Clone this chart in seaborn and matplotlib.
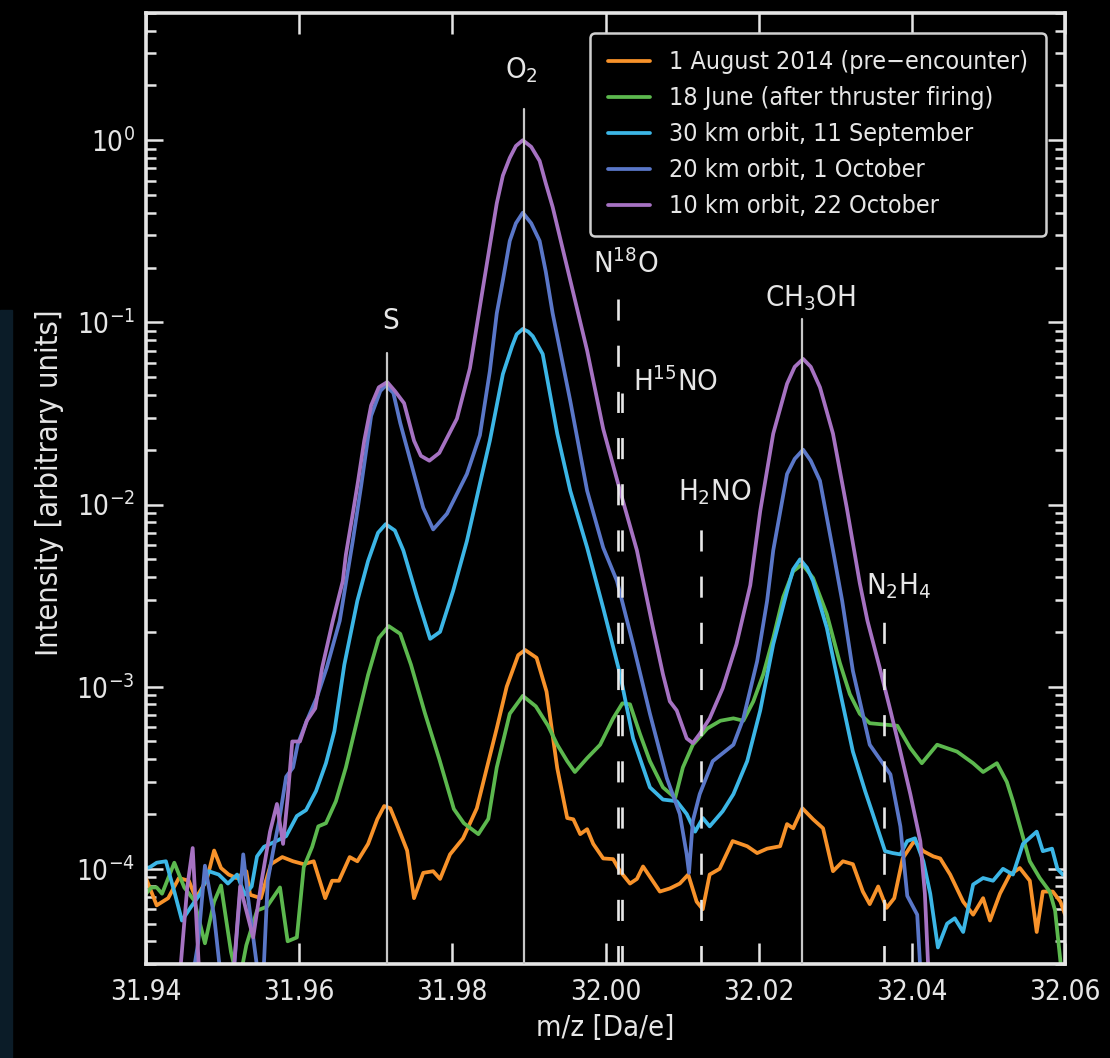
import matplotlib
matplotlib.use("Agg")
import matplotlib.pyplot as plt
import pandas as pd
import seaborn as sns
from matplotlib import font_manager
from matplotlib.patches import Rectangle

# spectra: (m/z, intensity)
aug_2014 = [
    (31.9400, 8.9e-5), (31.9414, 6.3e-5), (31.9429, 6.9e-5), (31.9443, 8.9e-5), (31.9456, 8.6e-5),
    (31.9465, 6.9e-5), (31.9479, 8.6e-5), (31.9489, 1.26e-4), (31.9498, 1.01e-4), (31.9508, 9.3e-5),
    (31.9518, 8.9e-5), (31.9531, 9.7e-5), (31.9536, 7.2e-5), (31.9550, 6.9e-5), (31.9563, 1.06e-4),
    (31.9578, 1.16e-4), (31.9592, 1.10e-4), (31.9606, 1.06e-4), (31.9619, 1.10e-4), (31.9634, 6.9e-5),
    (31.9643, 8.6e-5), (31.9652, 8.6e-5), (31.9666, 1.16e-4), (31.9676, 1.10e-4), (31.9690, 1.37e-4),
    (31.9702, 1.87e-4), (31.9711, 2.21e-4), (31.9719, 2.15e-4), (31.9727, 1.78e-4), (31.9741, 1.26e-4),
    (31.9750, 6.9e-5), (31.9762, 9.5e-5), (31.9775, 9.7e-5), (31.9784, 8.8e-5), (31.9797, 1.20e-4),
    (31.9814, 1.47e-4), (31.9832, 2.15e-4), (31.9845, 3.57e-4), (31.9858, 5.9e-4), (31.9871, 1.0e-3),
    (31.9886, 1.49e-3), (31.9895, 1.59e-3), (31.9910, 1.44e-3), (31.9923, 9.4e-4), (31.9937, 3.57e-4),
    (31.9950, 1.90e-4), (31.9958, 1.87e-4), (31.9967, 1.55e-4), (31.9976, 1.65e-4), (31.9984, 1.37e-4),
    (31.9997, 1.14e-4), (32.0010, 1.13e-4), (32.0019, 9.7e-5), (32.0032, 8.3e-5), (32.0041, 8.8e-5),
    (32.0049, 1.03e-4), (32.0071, 7.5e-5), (32.0084, 7.8e-5), (32.0097, 8.3e-5), (32.0108, 9.3e-5),
    (32.0119, 6.6e-5), (32.0127, 6.0e-5), (32.0136, 9.3e-5), (32.0149, 1.0e-4), (32.0166, 1.42e-4),
    (32.0185, 1.33e-4), (32.0198, 1.22e-4), (32.0211, 1.29e-4), (32.0228, 1.33e-4), (32.0237, 1.76e-4),
    (32.0245, 1.67e-4), (32.0257, 2.15e-4), (32.0271, 1.87e-4), (32.0284, 1.67e-4), (32.0297, 9.7e-5),
    (32.0310, 1.10e-4), (32.0323, 1.06e-4), (32.0336, 7.5e-5), (32.0345, 6.4e-5), (32.0356, 8.0e-5),
    (32.0367, 6.1e-5), (32.0377, 6.9e-5), (32.0388, 1.14e-4), (32.0403, 1.42e-4), (32.0415, 1.25e-4),
    (32.0428, 1.17e-4), (32.0437, 1.14e-4), (32.0450, 9.3e-5), (32.0467, 6.6e-5), (32.0480, 5.6e-5),
    (32.0493, 6.9e-5), (32.0502, 5.2e-5), (32.0515, 7.3e-5), (32.0528, 9.3e-5), (32.0541, 1.01e-4),
    (32.0554, 8.6e-5), (32.0563, 4.5e-5), (32.0571, 7.5e-5), (32.0584, 7.5e-5), (32.0594, 6.6e-5),
    (32.0600, 5.6e-5),
]

june_18 = [
    (31.9400, 7.3e-5), (31.9407, 7.9e-5), (31.9414, 7.9e-5), (31.9421, 7.3e-5), (31.9437, 1.08e-4),
    (31.9450, 7.9e-5), (31.9463, 6.7e-5), (31.9477, 3.9e-5), (31.9489, 6.6e-5), (31.9498, 8.1e-5),
    (31.9511, 3.5e-5), (31.9521, 2.3e-5), (31.9531, 3.8e-5), (31.9545, 5.9e-5), (31.9558, 6.2e-5),
    (31.9575, 7.9e-5), (31.9585, 4.0e-5), (31.9597, 4.2e-5), (31.9606, 1.02e-4), (31.9617, 1.32e-4),
    (31.9625, 1.71e-4), (31.9635, 1.78e-4), (31.9648, 2.35e-4), (31.9661, 3.6e-4), (31.9676, 6.6e-4),
    (31.9690, 1.16e-3), (31.9704, 1.85e-3), (31.9717, 2.15e-3), (31.9732, 1.95e-3), (31.9746, 1.32e-3),
    (31.9764, 7.2e-4), (31.9783, 4.0e-4), (31.9802, 2.13e-4), (31.9815, 1.78e-4), (31.9834, 1.55e-4),
    (31.9847, 1.88e-4), (31.9858, 3.6e-4), (31.9875, 7.1e-4), (31.9892, 8.9e-4), (31.9909, 7.8e-4),
    (31.9925, 6.1e-4), (31.9937, 4.8e-4), (31.9950, 3.9e-4), (31.9960, 3.4e-4), (31.9976, 4.05e-4),
    (31.9993, 4.8e-4), (32.0010, 6.7e-4), (32.0022, 8.1e-4), (32.0032, 8.0e-4), (32.0045, 5.5e-4),
    (32.0058, 3.9e-4), (32.0075, 2.8e-4), (32.0091, 2.45e-4), (32.0101, 3.6e-4), (32.0114, 4.8e-4),
    (32.0133, 5.9e-4), (32.0150, 6.5e-4), (32.0167, 6.7e-4), (32.0180, 6.5e-4), (32.0193, 8.3e-4),
    (32.0206, 1.17e-3), (32.0219, 1.85e-3), (32.0232, 3.1e-3), (32.0245, 4.3e-3), (32.0257, 4.7e-3),
    (32.0271, 3.95e-3), (32.0289, 2.5e-3), (32.0306, 1.35e-3), (32.0319, 9.1e-4), (32.0332, 7.1e-4),
    (32.0345, 6.3e-4), (32.0381, 6.1e-4), (32.0398, 4.6e-4), (32.0413, 3.8e-4), (32.0433, 4.8e-4),
    (32.0459, 4.4e-4), (32.0480, 3.8e-4), (32.0493, 3.4e-4), (32.0511, 3.8e-4), (32.0524, 3.0e-4),
    (32.0532, 2.35e-4), (32.0544, 1.55e-4), (32.0554, 1.1e-4), (32.0567, 8.9e-5), (32.0580, 7.5e-5),
    (32.0587, 5.9e-5), (32.0594, 3.1e-5), (32.0600, 2.0e-5),
]

sep_11 = [
    (31.9400, 1.01e-4), (31.9405, 1.02e-4), (31.9414, 1.08e-4), (31.9426, 1.10e-4), (31.9437, 7.5e-5),
    (31.9447, 5.2e-5), (31.9459, 6.2e-5), (31.9471, 7.3e-5), (31.9482, 9.7e-5), (31.9495, 9.3e-5),
    (31.9507, 8.3e-5), (31.9519, 9.3e-5), (31.9529, 7.2e-5), (31.9538, 8.0e-5), (31.9545, 1.17e-4),
    (31.9554, 1.32e-4), (31.9567, 1.40e-4), (31.9583, 1.51e-4), (31.9597, 1.95e-4), (31.9609, 2.1e-4),
    (31.9622, 2.67e-4), (31.9635, 3.8e-4), (31.9646, 5.7e-4), (31.9659, 1.32e-3), (31.9676, 2.96e-3),
    (31.9690, 4.9e-3), (31.9703, 7.0e-3), (31.9713, 7.8e-3), (31.9725, 7.2e-3), (31.9736, 5.6e-3),
    (31.9754, 3.1e-3), (31.9771, 1.83e-3), (31.9784, 2.0e-3), (31.9801, 3.35e-3), (31.9819, 6.3e-3),
    (31.9836, 1.30e-2), (31.9849, 2.24e-2), (31.9866, 5.2e-2), (31.9878, 7.4e-2), (31.9884, 8.6e-2),
    (31.9892, 9.2e-2), (31.9899, 8.9e-2), (31.9905, 8.4e-2), (31.9918, 6.7e-2), (31.9937, 2.45e-2),
    (31.9954, 1.19e-2), (31.9976, 5.8e-3), (31.9997, 2.7e-3), (32.0019, 1.17e-3), (32.0036, 5.2e-4),
    (32.0058, 2.8e-4), (32.0075, 2.4e-4), (32.0093, 2.35e-4), (32.0106, 2.0e-4), (32.0117, 1.6e-4),
    (32.0127, 1.9e-4), (32.0136, 1.71e-4), (32.0153, 2.07e-4), (32.0167, 2.57e-4), (32.0185, 3.9e-4),
    (32.0202, 7.4e-4), (32.0219, 1.71e-3), (32.0237, 3.35e-3), (32.0245, 4.4e-3), (32.0254, 5.0e-3),
    (32.0263, 4.5e-3), (32.0271, 3.8e-3), (32.0289, 2.1e-3), (32.0306, 9.5e-4), (32.0323, 4.4e-4),
    (32.0339, 2.67e-4), (32.0349, 2.0e-4), (32.0365, 1.25e-4), (32.0375, 1.22e-4), (32.0385, 1.20e-4),
    (32.0394, 1.42e-4), (32.0404, 1.47e-4), (32.0415, 1.10e-4), (32.0424, 7.3e-5), (32.0434, 3.7e-5),
    (32.0446, 5.0e-5), (32.0456, 5.35e-5), (32.0467, 4.5e-5), (32.0480, 8.2e-5), (32.0493, 8.9e-5),
    (32.0506, 8.6e-5), (32.0519, 1.0e-4), (32.0532, 9.3e-5), (32.0545, 1.37e-4), (32.0563, 1.6e-4),
    (32.0571, 1.25e-4), (32.0583, 1.29e-4), (32.0590, 1.0e-4), (32.0597, 9.3e-5),
]

oct_01 = [
    (31.9457, 2.0e-5), (31.9468, 3.9e-5), (31.9477, 1.04e-4), (31.9489, 5.5e-5), (31.9497, 2.7e-5),
    (31.9512, 2.0e-5), (31.9527, 1.20e-4), (31.9533, 7.1e-5), (31.9545, 2.9e-5), (31.9554, 3.0e-5),
    (31.9559, 8.6e-5), (31.9566, 1.25e-4), (31.9574, 1.85e-4), (31.9583, 3.2e-4), (31.9592, 3.6e-4),
    (31.9598, 4.8e-4), (31.9610, 6.5e-4), (31.9623, 8.7e-4), (31.9636, 1.27e-3), (31.9653, 2.3e-3),
    (31.9670, 6.3e-3), (31.9681, 1.27e-2), (31.9694, 3.07e-2), (31.9706, 4.2e-2), (31.9713, 4.5e-2),
    (31.9723, 4.1e-2), (31.9732, 2.8e-2), (31.9750, 1.47e-2), (31.9762, 9.6e-3), (31.9775, 7.3e-3),
    (31.9793, 8.9e-3), (31.9819, 1.47e-2), (31.9836, 2.4e-2), (31.9849, 5.4e-2), (31.9858, 0.112),
    (31.9866, 0.17), (31.9875, 0.28), (31.9883, 0.35), (31.9892, 0.40), (31.9903, 0.35),
    (31.9914, 0.28), (31.9922, 0.19), (31.9931, 0.112), (31.9954, 3.7e-2), (31.9976, 1.19e-2),
    (31.9997, 5.8e-3), (32.0015, 3.8e-3), (32.0036, 1.71e-3), (32.0058, 7.1e-4), (32.0080, 3.15e-4),
    (32.0097, 2.0e-4), (32.0106, 1.2e-4), (32.0109, 9.5e-5), (32.0114, 1.83e-4), (32.0123, 2.57e-4),
    (32.0140, 3.9e-4), (32.0167, 4.8e-4), (32.0180, 6.7e-4), (32.0198, 1.38e-3), (32.0211, 2.96e-3),
    (32.0219, 5.6e-3), (32.0237, 1.47e-2), (32.0247, 1.78e-2), (32.0258, 2.0e-2), (32.0268, 1.74e-2),
    (32.0280, 1.35e-2), (32.0297, 5.6e-3), (32.0309, 2.96e-3), (32.0323, 1.22e-3), (32.0345, 4.8e-4),
    (32.0372, 3.3e-4), (32.0385, 1.71e-4), (32.0394, 7.1e-5), (32.0407, 5.6e-5), (32.0413, 2.0e-5),
]

oct_22 = [
    (31.9442, 2.0e-5), (31.9454, 8.0e-5), (31.9461, 1.3e-4), (31.9471, 2.0e-5), (31.9512, 2.0e-5),
    (31.9523, 8.0e-5), (31.9540, 4.2e-5), (31.9551, 8.6e-5), (31.9562, 1.6e-4), (31.9571, 2.27e-4),
    (31.9579, 1.37e-4), (31.9585, 2.45e-4), (31.9591, 5.0e-4), (31.9601, 5.0e-4), (31.9610, 6.5e-4),
    (31.9621, 7.6e-4), (31.9630, 1.27e-3), (31.9644, 2.3e-3), (31.9657, 3.8e-3), (31.9661, 5.3e-3),
    (31.9670, 8.9e-3), (31.9677, 1.35e-2), (31.9685, 2.24e-2), (31.9694, 3.5e-2), (31.9704, 4.4e-2),
    (31.9715, 4.7e-2), (31.9725, 4.2e-2), (31.9737, 3.6e-2), (31.9750, 2.24e-2), (31.9759, 1.85e-2),
    (31.9770, 1.74e-2), (31.9783, 1.92e-2), (31.9806, 2.96e-2), (31.9823, 5.6e-2), (31.9840, 0.155),
    (31.9858, 0.45), (31.9866, 0.64), (31.9875, 0.80), (31.9883, 0.93), (31.9892, 1.0),
    (31.9903, 0.92), (31.9914, 0.77), (31.9922, 0.58), (31.9931, 0.43), (31.9954, 0.17),
    (31.9976, 7.0e-2), (31.9997, 2.6e-2), (32.0019, 1.19e-2), (32.0041, 5.6e-3), (32.0062, 2.1e-3),
    (32.0075, 1.17e-3), (32.0084, 8.3e-4), (32.0093, 7.4e-4), (32.0106, 5.2e-4), (32.0114, 4.9e-4),
    (32.0123, 5.5e-4), (32.0136, 6.7e-4), (32.0153, 9.8e-4), (32.0171, 1.71e-3), (32.0189, 3.6e-3),
    (32.0202, 9.2e-3), (32.0219, 2.45e-2), (32.0237, 4.6e-2), (32.0247, 5.7e-2), (32.0258, 6.3e-2),
    (32.0268, 5.7e-2), (32.0280, 4.4e-2), (32.0297, 2.45e-2), (32.0315, 9.6e-3), (32.0332, 3.7e-3),
    (32.0342, 2.3e-3), (32.0358, 1.27e-3), (32.0372, 7.4e-4), (32.0385, 4.4e-4), (32.0398, 2.57e-4),
    (32.0411, 1.42e-4), (32.0417, 7.3e-5), (32.0421, 3.1e-5), (32.0426, 2.0e-5),
]

series_names = ["1 August 2014 (pre\u2212encounter)", "18 June (after thruster firing)",
                "30 km orbit, 11 September", "20 km orbit, 1 October", "10 km orbit, 22 October"]
series_data = [aug_2014, june_18, sep_11, oct_01, oct_22]
series_colors = ["#f7922a", "#5cb84e", "#3cb6e6", "#5a77c8", "#a672c2"]

# species marker lines: m/z, top of the line, solid or dashed
species_mz = [31.9715, 31.9893, 32.0257, 32.0016, 32.0022, 32.0125, 32.0364]
species_top = [6.8e-2, 1.49, 0.105, 0.136, 4.1e-2, 8.1e-3, 2.6e-3]
species_solid = [True, True, True, False, False, False, False]

species_labels = ["S", "O$_2$", "N$^{18}$O", "H$^{15}$NO", "H$_2$NO", "CH$_3$OH", "N$_2$H$_4$"]
label_mz = [31.9719, 31.9869, 31.9984, 32.0036, 32.0095, 32.0208, 32.0340]
label_int = [9.2e-2, 2.18, 0.187, 4.2e-2, 1.05e-2, 0.122, 3.2e-3]

xticks = [31.94, 31.96, 31.98, 32.00, 32.02, 32.04, 32.06]

sns.set_style("ticks")
names = {f.name for f in font_manager.fontManager.ttflist}
if "Liberation Sans Narrow" in names:
    family, stretch = "Liberation Sans Narrow", "normal"
elif any(f.name == "DejaVu Sans" and str(f.stretch) == "condensed" for f in font_manager.fontManager.ttflist):
    family, stretch = "DejaVu Sans", "condensed"
else:
    family, stretch = "Roboto", "normal"
fg = "#e6e6e6"
plt.rcParams.update({
    "font.family": [family, "DejaVu Sans"],
    "font.stretch": stretch,
    "mathtext.fontset": "custom",
    "mathtext.rm": family,
    "mathtext.it": family,
    "mathtext.bf": family,
    "text.color": fg,
    "axes.labelcolor": fg,
    "xtick.color": fg,
    "ytick.color": fg,
    "axes.edgecolor": fg,
    "figure.facecolor": "black",
    "axes.facecolor": "black",
})

fig = plt.figure(figsize=(11.1, 10.58), dpi=100)
fig.patches.append(Rectangle((0, 0), 12 / 1110, 1 - 310 / 1058, transform=fig.transFigure,
                             color="#0b1c28", zorder=0))
ax = fig.add_axes([0.1315, 0.0888, 0.828, 0.899])

for name, pts, col in zip(series_names, series_data, series_colors):
    df = pd.DataFrame(pts, columns=["mz", "intensity"])
    sns.lineplot(data=df, x="mz", y="intensity", ax=ax, color=col, lw=2.7,
                 label=name, estimator=None, sort=False)

ax.set_yscale("log")
ax.set_xlim(31.94, 32.06)
ax.set_ylim(3.0e-5, 5.0)

for mz, top, solid in zip(species_mz, species_top, species_solid):
    if solid:
        ax.plot([mz, mz], [1e-6, top], color="#c8c8c8", lw=1.6, zorder=5)
    else:
        ax.plot([mz, mz], [1e-6, top], color="#e8e8e8", lw=1.9,
                linestyle=(0, (8, 9.5)), zorder=5)

for lab, mz, val in zip(species_labels, label_mz, label_int):
    ha = "center" if lab == "S" else "left"
    ax.text(mz, val, lab, fontsize=21, ha=ha, va="baseline", color=fg, zorder=6)

ax.set_xticks(xticks)
ax.set_xticklabels([f"{t:.2f}" for t in xticks])
ax.tick_params(axis="both", which="both", direction="in", top=True, right=True,
               labelsize=20, width=1.8)
ax.tick_params(axis="x", which="major", length=15, pad=10)
ax.tick_params(axis="y", which="major", length=12, pad=8)
ax.tick_params(axis="y", which="minor", length=7)
ax.tick_params(axis="x", which="minor", bottom=False, top=False)
for sp in ax.spines.values():
    sp.set_linewidth(2.6)
    sp.set_color(fg)

ax.set_xlabel("m/z [Da/e]", fontsize=21)
ax.set_ylabel("Intensity [arbitrary units]", fontsize=22)
ax.xaxis.set_label_coords(0.4995, -0.052)
ax.yaxis.set_label_coords(-0.089, 0.506)

leg = ax.legend(loc="upper right", bbox_to_anchor=(0.979, 0.979), borderaxespad=0,
                fontsize=18, frameon=True, fancybox=True, facecolor="black",
                edgecolor="#d0d0d0", framealpha=1, handlelength=1.7,
                handletextpad=0.75, labelspacing=0.48, borderpad=0.7)
leg.get_frame().set_linewidth(1.8)
for t in leg.get_texts():
    t.set_color(fg)
for h in leg.get_lines():
    h.set_linewidth(2.7)

fig.savefig("out.png", dpi=100, facecolor="black")
